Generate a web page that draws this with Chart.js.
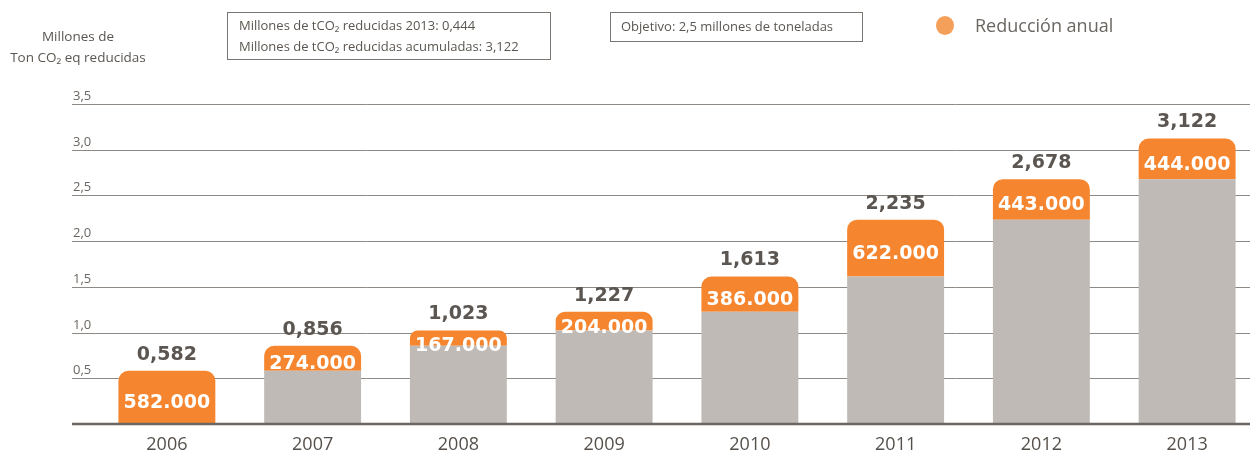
<!DOCTYPE html>
<html>
<head>
<meta charset="utf-8">
<script src="https://cdn.jsdelivr.net/npm/chart.js@4"></script>
<style>
  html, body { margin: 0; padding: 0; background: #fff; overflow: hidden; width: 1250px; height: 453px; }
  #wrap { position: relative; width: 1262px; height: 453px; }
  .txt { position: absolute; font-family: "Open Sans", "Liberation Sans", sans-serif; color: #5b5651; white-space: nowrap; }
  .box { position: absolute; border: 1px solid #7a7570; box-sizing: border-box; }
</style>
</head>
<body>
<div id="wrap">
  <canvas id="co2Chart"></canvas>
  <div class="txt" style="left:0;width:156px;top:26px;font-size:13.5px;line-height:21px;text-align:center;">Millones de<br>Ton CO₂ eq reducidas</div>
  <div class="box" style="left:227px;top:12px;width:324px;height:48px;"></div>
  <div class="txt" style="left:239px;top:15px;font-size:13px;line-height:21px;">Millones de tCO₂ reducidas 2013: 0,444<br>Millones de tCO₂ reducidas acumuladas: 3,122</div>
  <div class="box" style="left:610px;top:12px;width:253px;height:30px;"></div>
  <div class="txt" style="left:621px;top:17px;font-size:13px;line-height:18px;">Objetivo: 2,5 millones de toneladas</div>
  <div style="position:absolute;left:936px;top:16px;width:18px;height:19px;border-radius:50%;background:#f5a05a;"></div>
  <div class="txt" style="left:975px;top:13px;font-size:18px;line-height:24px;color:#6b6661;">Reducción anual</div>
</div>
<script>
var years = ["2006", "2007", "2008", "2009", "2010", "2011", "2012", "2013"];
var annualTons = [582000, 274000, 167000, 204000, 386000, 622000, 443000, 444000];
var cumulative = [0.582, 0.856, 1.023, 1.227, 1.613, 2.235, 2.678, 3.122];
var previousCumulative = [0, 0.582, 0.856, 1.023, 1.227, 1.613, 2.235, 2.678];
var yTicks = [0.5, 1.0, 1.5, 2.0, 2.5, 3.0, 3.5];

var annualMillions = annualTons.map(function (v) { return v / 1000000; });

function fmtThousands(v) {
  return v.toLocaleString('de-DE');
}
function fmtComma(v) {
  return v.toFixed(3).replace('.', ',');
}

// gridlines + y labels drawn from the y scale, extending left of the plot area
var gridPlugin = {
  id: 'gridPlugin',
  beforeDatasetsDraw: function (chart) {
    var c = chart.ctx, y = chart.scales.y;
    c.save();
    c.font = '13px "Open Sans", "Liberation Sans", sans-serif';
    c.textAlign = 'left';
    c.textBaseline = 'alphabetic';
    yTicks.forEach(function (t) {
      var py = Math.round(y.getPixelForValue(t)) + 0.5;
      c.strokeStyle = '#8e8984';
      c.lineWidth = 1;
      c.beginPath();
      c.moveTo(72, py);
      c.lineTo(1250, py);
      c.stroke();
      c.fillStyle = '#6b6661';
      c.fillText(t.toFixed(1).replace('.', ','), 73, py - 5);
    });
    c.restore();
  },
  afterDatasetsDraw: function (chart) {
    var c = chart.ctx, y = chart.scales.y;
    var py = y.getPixelForValue(0);
    c.save();
    c.strokeStyle = '#6b6661';
    c.lineWidth = 2.5;
    c.beginPath();
    c.moveTo(72, py);
    c.lineTo(1250, py);
    c.stroke();

    var meta = chart.getDatasetMeta(1);
    c.textAlign = 'center';
    c.textBaseline = 'middle';
    meta.data.forEach(function (bar, i) {
      var mid = Math.max((bar.y + bar.base) / 2 + 6, bar.y + 16);
      c.font = 'bold 19px "DejaVu Sans", sans-serif';
      c.fillStyle = '#ffffff';
      c.fillText(fmtThousands(annualTons[i]), bar.x, mid);
      c.fillStyle = '#5b5651';
      c.fillText(fmtComma(cumulative[i]), bar.x, bar.y - 16);
    });
    c.restore();
  }
};

var ctx = document.getElementById('co2Chart').getContext('2d');

var myChart = new Chart(ctx, {
  type: 'bar',
  data: {
    labels: years,
    datasets: [{
        label: "Acumulado anterior",
        backgroundColor: "#bfbab5",
        data: previousCumulative,
        barPercentage: 0.665,
        categoryPercentage: 1
      }, {
        label: "Reducción anual",
        backgroundColor: "#f5862f",
        borderRadius: { topLeft: 10, topRight: 10, bottomLeft: 0, bottomRight: 0 },
        borderSkipped: 'bottom',
        data: annualMillions,
        barPercentage: 0.665,
        categoryPercentage: 1
      }
    ]
  },
  options: {
    responsive: true,
    maintainAspectRatio: false,
    animation: false,
    layout: {
      padding: { top: 104, left: 94, right: 2, bottom: 0 }
    },
    scales: {
      x: {
        stacked: true,
        grid: { display: false },
        border: { display: false },
        afterFit: function (scale) { scale.height = 29; },
        ticks: {
          color: '#55504b',
          padding: 2,
          font: { size: 18, family: '"Open Sans", "Liberation Sans", sans-serif' }
        }
      },
      y: {
        stacked: true,
        display: false,
        min: 0,
        max: 3.5
      }
    },
    plugins: {
      legend: { display: false },
      tooltip: { enabled: false }
    }
  },
  plugins: [gridPlugin]
});
</script>
</body>
</html>
